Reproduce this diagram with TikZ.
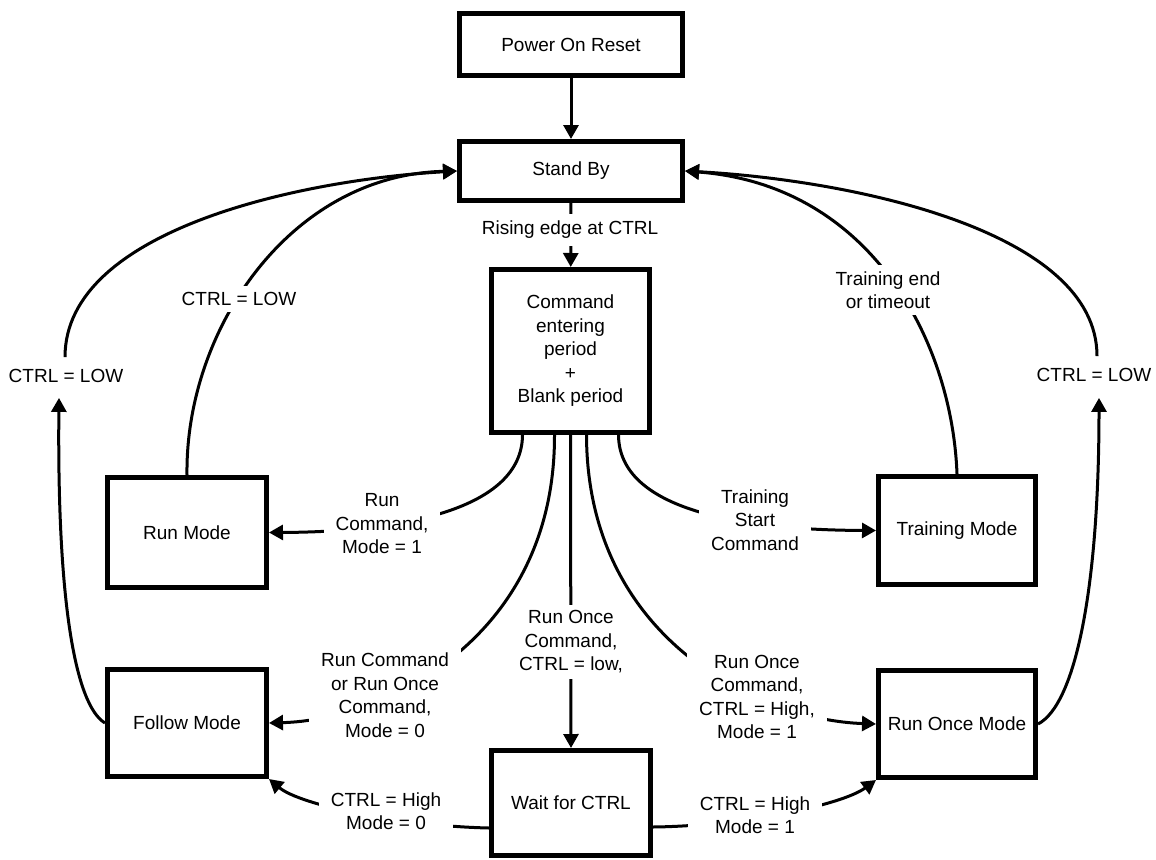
\documentclass[tikz,border=0pt]{standalone}
\usepackage{fontspec}
\setmainfont{Liberation Sans}
\usetikzlibrary{arrows.meta,backgrounds}
\newcommand{\fs}{\fontsize{19}{23.5}\selectfont}
\tikzset{
  box/.style={draw, line width=5pt, inner sep=0pt, align=center, font=\fs},
  lbl/.style={fill=white, align=center, inner xsep=12pt, inner ysep=6pt, font=\fs},
  arr/.style={line width=3pt, -{Triangle[length=14pt,width=15pt]}},
  ln/.style={line width=3pt}
}
\begin{document}
\begin{tikzpicture}[x=1pt,y=1pt]
\useasboundingbox (0,0) rectangle (1156,-859);
% state boxes
\node[box, minimum width=223pt, minimum height=62pt] (por) at (571,-44.5) {Power On Reset};
\node[box, minimum width=223pt, minimum height=59pt] (sb) at (571,-171) {Stand By};
\node[box, minimum width=158pt, minimum height=163pt] (cmd) at (570.5,-351) {Command\\entering\\period\\+\\Blank period};
\node[box, minimum width=159pt, minimum height=110pt] (run) at (187,-532.5) {Run Mode};
\node[box, minimum width=159pt, minimum height=107pt] (fol) at (187,-723) {Follow Mode};
\node[box, minimum width=157pt, minimum height=108pt] (trn) at (957,-530.5) {Training Mode};
\node[box, minimum width=157pt, minimum height=107pt] (ron) at (957,-724) {Run Once Mode};
\node[box, minimum width=159pt, minimum height=105pt] (wfc) at (571,-803) {Wait for CTRL};
% labels
\node[lbl, inner ysep=7pt] (lRise) at (570,-230) {Rising edge at CTRL};
\node[lbl, inner ysep=7pt] (lLowL) at (66,-376) {CTRL = LOW};
\node[lbl] (lLowM) at (239,-299) {CTRL = LOW};
\node[lbl, inner xsep=8pt] (lTrEnd) at (888,-290) {Training end\\or timeout};
\node[lbl, inner ysep=7pt] (lLowR) at (1094,-375) {CTRL = LOW};
\node[lbl] (lRun1) at (382,-524) {Run\\Command,\\Mode = 1};
\node[lbl] (lTrSt) at (755,-520) {Training\\Start\\Command};
\node[lbl] (lRun0) at (385,-695) {Run Command\\or Run Once\\Command,\\Mode = 0};
\node[lbl, inner xsep=6pt] (lOnceLow) at (571,-642) {Run Once\\Command,\\CTRL = low,};
\node[lbl] (lOnceHigh) at (757,-697) {Run Once\\Command,\\CTRL = High,\\Mode = 1};
\node[lbl] (lHigh0) at (386,-811) {CTRL = High\\Mode = 0};
\node[lbl] (lHigh1) at (755,-815) {CTRL = High\\Mode = 1};
% connectors in front
\draw[arr] (por) -- (sb);
\draw[arr] (fol.west) .. controls (75,-705) and (57,-600) .. ([shift={(-7,-8)}]lLowL.south);
\draw[arr] ([shift={(-1,5)}]lLowL.north) .. controls (65,-230) and (300,-180) .. (sb.west);
\draw[arr] (ron.east) .. controls (1075,-705) and (1099,-590) .. ([shift={(5,-9)}]lLowR.south);
\draw[arr] ([shift={(3,5)}]lLowR.north) .. controls (1097,-230) and (850,-180) .. (sb.east);
% connectors behind labels
\begin{pgfonlayer}{background}
\draw[arr] (sb) -- (cmd);
\draw[arr] (run.north) .. controls (185,-330) and (290,-175) .. (sb.west);
\draw[arr] (trn.north) .. controls (952,-340) and (870,-185) .. (sb.east);
\draw[arr] ([xshift=-48pt]cmd.south) .. controls (522,-510) and (400,-532) .. (run.east);
\draw[arr] ([xshift=48pt]cmd.south) .. controls (619,-510) and (741,-530) .. (trn.west);
\draw[arr] ([xshift=-16pt]cmd.south) .. controls (555,-640) and (382,-720) .. (fol.east);
\draw[arr] ([xshift=16pt]cmd.south) .. controls (587,-640) and (760,-720) .. (ron.west);
\draw[arr] (cmd.south) -- (wfc.north);
\draw[arr] ([yshift=-25pt]wfc.west) .. controls (400,-826) and (300,-805) .. (fol.south east);
\draw[arr] ([yshift=-24pt]wfc.east) .. controls (742,-826) and (842,-805) .. (ron.south west);
\end{pgfonlayer}
\end{tikzpicture}
\end{document}
